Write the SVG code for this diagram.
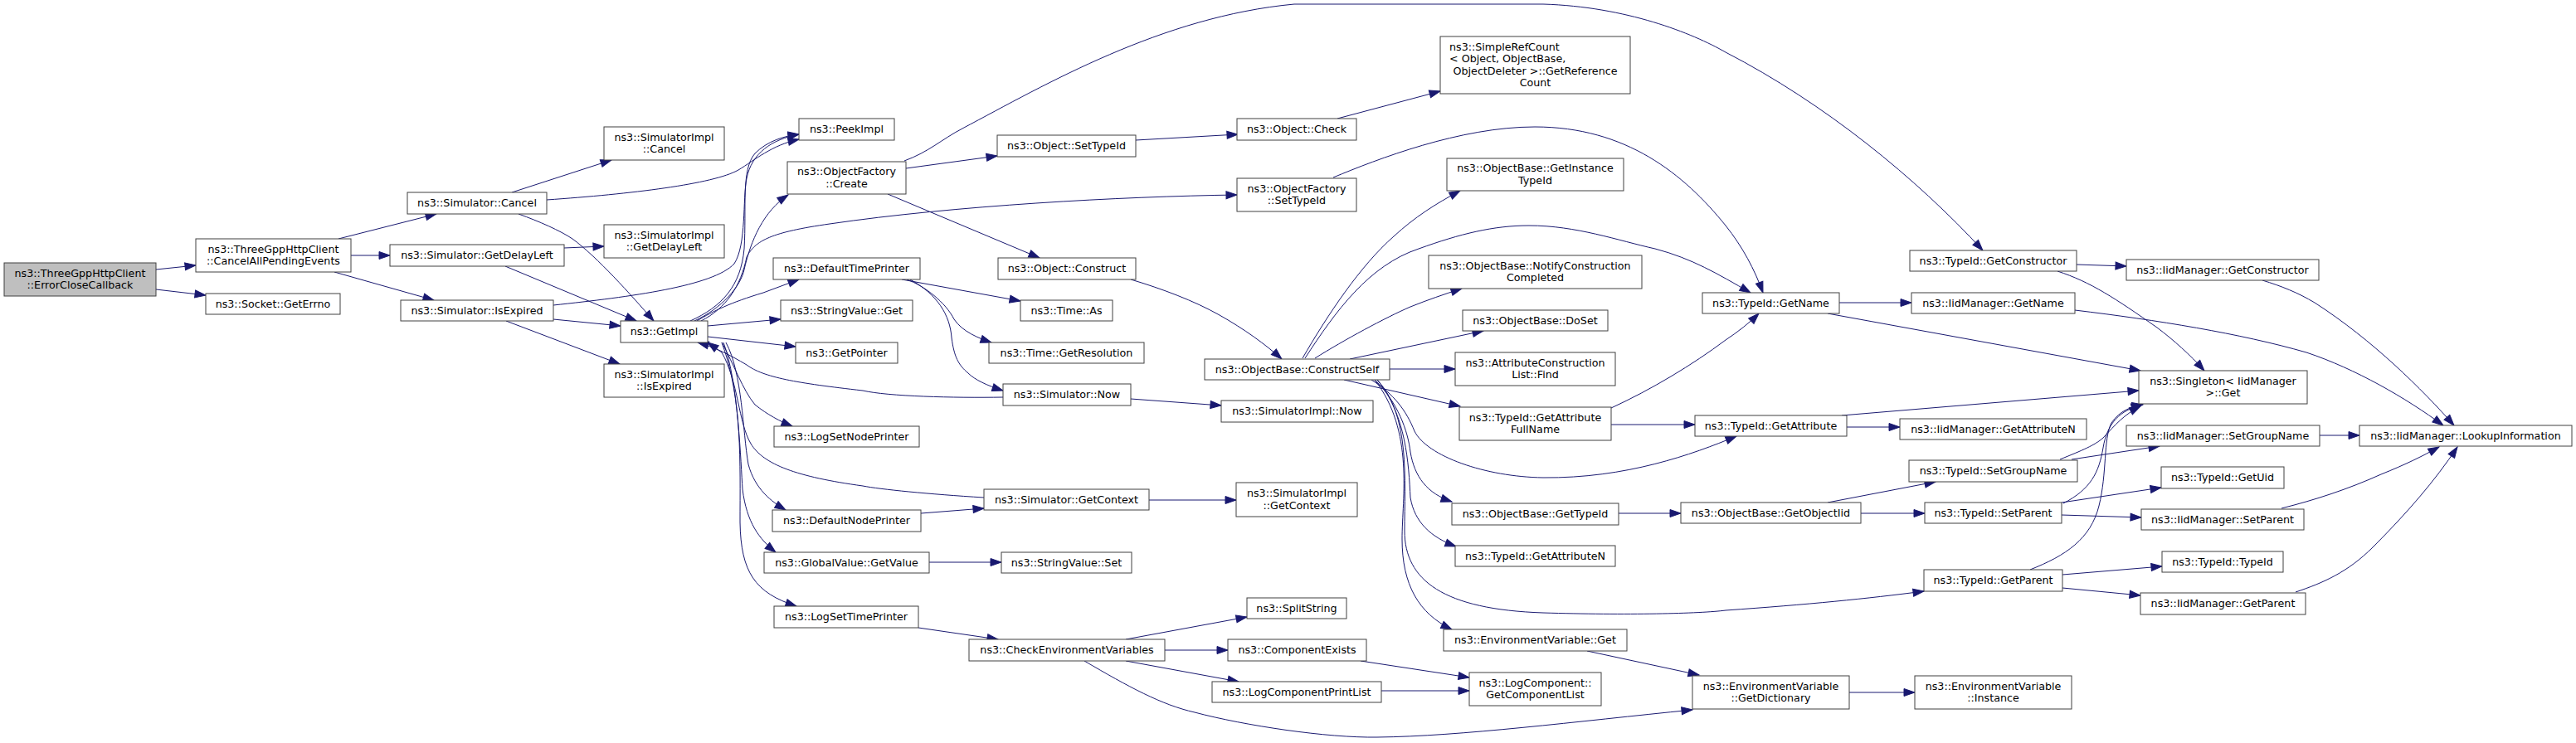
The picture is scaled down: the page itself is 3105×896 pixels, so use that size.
<svg xmlns="http://www.w3.org/2000/svg" width="3105" height="896" viewBox="0 0 3105 896">
<style>
.node rect{fill:#ffffff;stroke:#404040;stroke-width:1}
.node text{font-family:"DejaVu Sans",sans-serif;font-size:12.7px;text-anchor:middle;fill:#000000}
.root rect{fill:#bfbfbf}
.edge path{fill:none;stroke:#191970;stroke-width:1;marker-end:url(#arr)}
</style>
<defs>
<marker id="arr" markerUnits="userSpaceOnUse" markerWidth="14" markerHeight="10" refX="13" refY="4.5" orient="auto" overflow="visible">
<path d="M0,0 L13,4.5 L0,9 Z" fill="#191970" stroke="#191970" stroke-width="1"/>
</marker>
</defs>
<rect x="0" y="0" width="3105" height="896" fill="#ffffff"/>
<g id="edges" class="edge">
<path d="M188,325 L236,320"/>
<path d="M188,349 L248,356"/>
<path d="M408,288 L526,258"/>
<path d="M423,308 L470,308"/>
<path d="M403,328 L523,362"/>
<path d="M617,232 L737,193"/>
<path d="M659,241 C760,234 860,222 890,205 C910,193 930,175 963,168"/>
<path d="M625,258 C650,267 675,278 690,288 C720,310 760,355 788,387"/>
<path d="M680,299 L728,297"/>
<path d="M609,321 L767,387"/>
<path d="M667,385 L748,393"/>
<path d="M610,387 L747,439"/>
<path d="M667,368 C760,358 860,345 885,318 C900,295 895,240 900,215 C906,185 930,168 963,162"/>
<path d="M832,387 C870,370 893,345 897,300 C900,250 893,205 910,185 C925,170 945,164 963,162"/>
<path d="M837,387 C870,372 893,345 897,325 C905,290 920,255 950,235"/>
<path d="M845,387 C875,372 893,345 900,310 C910,290 930,280 1000,270 C1150,248 1350,237 1491,235"/>
<path d="M840,387 C860,375 880,365 920,353 L963,337"/>
<path d="M853,393 L941,385"/>
<path d="M853,406 L959,418"/>
<path d="M870,413 C885,440 895,470 910,488 C925,500 940,508 955,514"/>
<path d="M875,413 C895,450 895,520 902,560 C910,590 930,605 947,615"/>
<path d="M872,413 C890,460 893,560 895,590 C900,630 915,650 935,666"/>
<path d="M870,413 C895,480 892,560 892,630 C893,690 910,715 960,731"/>
<path d="M1209,479 C1150,480 1070,478 1040,471 C960,462 920,455 900,440 C880,428 860,418 841,413"/>
<path d="M1186,600 C1120,596 1060,590 1040,586 C960,575 920,560 905,535 C890,510 890,460 870,425 L853,413"/>
<path d="M1087,337 L1230,363"/>
<path d="M1093,337 C1115,345 1140,365 1150,385 C1160,400 1180,408 1195,413"/>
<path d="M1097,337 C1130,355 1145,380 1147,407 C1150,430 1155,440 1167,450 C1175,458 1190,465 1209,471"/>
<path d="M1363,481 L1472,489"/>
<path d="M1110,619 L1186,613"/>
<path d="M1385,603 L1490,603"/>
<path d="M1120,678 L1207,678"/>
<path d="M1107,757 L1203,771"/>
<path d="M1357,771 L1503,744"/>
<path d="M1404,784 L1480,784"/>
<path d="M1357,797 L1493,822"/>
<path d="M1307,797 C1360,828 1400,850 1440,859 C1500,875 1600,890 1660,889 C1760,888 1900,870 2040,856"/>
<path d="M1640,797 L1771,817"/>
<path d="M1665,833 L1771,833"/>
<path d="M1913,785 L2048,814"/>
<path d="M2229,835 L2308,835"/>
<path d="M1092,203 L1202,188"/>
<path d="M1070,234 L1253,311"/>
<path d="M1090,194 C1120,183 1135,168 1160,155 C1260,102 1400,20 1560,5 L1860,5 C1960,8 2040,40 2080,63 C2200,125 2310,215 2390,302"/>
<path d="M1369,169 L1492,162"/>
<path d="M1612,143 L1736,110"/>
<path d="M1363,337 C1400,348 1440,363 1470,380 C1500,397 1525,415 1545,433"/>
<path d="M1607,214 C1660,192 1760,153 1850,153 C1960,153 2030,210 2080,272 C2100,297 2115,325 2125,353"/>
<path d="M1570,432 C1600,380 1640,320 1680,285 C1705,262 1730,246 1760,230"/>
<path d="M1573,432 C1610,375 1650,320 1710,300 C1760,282 1800,272 1843,272 C1900,272 1950,290 1995,300 C2040,312 2070,330 2110,353"/>
<path d="M1585,432 C1620,410 1670,383 1700,370 C1720,362 1740,355 1762,348"/>
<path d="M1627,433 L1788,399"/>
<path d="M1675,445 L1754,445"/>
<path d="M1620,458 L1760,490"/>
<path d="M1653,458 C1680,475 1695,495 1705,520 C1720,550 1790,575 1860,576 C1960,577 2040,548 2093,526"/>
<path d="M1657,458 C1685,485 1697,520 1700,545 C1705,575 1720,595 1750,605"/>
<path d="M1660,458 C1695,500 1698,560 1700,600 C1705,630 1725,648 1755,659"/>
<path d="M1660,458 C1700,500 1693,580 1693,640 C1693,700 1740,735 1860,739 C1960,742 2050,740 2080,736 C2180,729 2250,722 2319,713"/>
<path d="M1657,458 C1705,520 1690,600 1690,650 C1690,705 1710,740 1750,759"/>
<path d="M1942,492 C1990,470 2040,440 2080,410 C2095,400 2108,390 2120,378"/>
<path d="M1942,512 L2043,512"/>
<path d="M2220,501 L2578,471"/>
<path d="M2226,515 L2290,515"/>
<path d="M1951,619 L2026,619"/>
<path d="M2203,606 L2333,581"/>
<path d="M2243,619 L2320,619"/>
<path d="M2483,554 C2510,543 2525,537 2535,528 C2550,512 2560,500 2580,490"/>
<path d="M2497,554 L2603,538"/>
<path d="M2487,607 C2520,590 2530,570 2535,540 C2540,510 2555,495 2582,488"/>
<path d="M2485,606 L2605,588"/>
<path d="M2485,621 L2581,624"/>
<path d="M2447,687 C2490,670 2520,650 2530,610 C2540,570 2535,530 2545,510 C2555,495 2570,490 2583,488"/>
<path d="M2486,693 L2606,683"/>
<path d="M2486,709 L2580,718"/>
<path d="M2217,365 L2304,365"/>
<path d="M2203,378 L2580,447"/>
<path d="M2503,319 L2563,321"/>
<path d="M2480,327 C2520,340 2550,360 2600,395 C2620,410 2640,428 2657,447"/>
<path d="M2501,374 C2600,386 2700,402 2780,425 C2840,445 2900,480 2945,513"/>
<path d="M2727,338 C2750,345 2770,353 2790,365 C2860,410 2920,470 2958,513"/>
<path d="M2796,525 L2844,525"/>
<path d="M2750,613 C2790,603 2830,590 2870,572 C2900,560 2920,550 2940,539"/>
<path d="M2767,714 C2800,703 2830,690 2860,660 C2900,620 2935,580 2962,539"/>
</g>
<g id="n1" class="node root"><rect x="5" y="317" width="183" height="40"/><text x="96.5" y="333.6">ns3::ThreeGppHttpClient</text><text x="96.5" y="348">::ErrorCloseCallback</text></g>
<g id="n2" class="node"><rect x="236" y="288" width="187" height="40"/><text x="329.5" y="304.6">ns3::ThreeGppHttpClient</text><text x="329.5" y="319">::CancelAllPendingEvents</text></g>
<g id="n3" class="node"><rect x="248" y="354" width="162" height="25"/><text x="329" y="370.5">ns3::Socket::GetErrno</text></g>
<g id="n4" class="node"><rect x="491" y="232" width="168" height="26"/><text x="575" y="249">ns3::Simulator::Cancel</text></g>
<g id="n5" class="node"><rect x="470" y="295" width="210" height="26"/><text x="575" y="312">ns3::Simulator::GetDelayLeft</text></g>
<g id="n6" class="node"><rect x="483" y="362" width="184" height="25"/><text x="575" y="378.5">ns3::Simulator::IsExpired</text></g>
<g id="n7" class="node"><rect x="728" y="153" width="145" height="40"/><text x="800.5" y="169.6">ns3::SimulatorImpl</text><text x="800.5" y="184">::Cancel</text></g>
<g id="n8" class="node"><rect x="728" y="271" width="145" height="40"/><text x="800.5" y="287.6">ns3::SimulatorImpl</text><text x="800.5" y="302">::GetDelayLeft</text></g>
<g id="n9" class="node"><rect x="748" y="387" width="105" height="26"/><text x="800.5" y="404">ns3::GetImpl</text></g>
<g id="n10" class="node"><rect x="728" y="439" width="145" height="40"/><text x="800.5" y="455.6">ns3::SimulatorImpl</text><text x="800.5" y="470">::IsExpired</text></g>
<g id="n11" class="node"><rect x="963" y="143" width="115" height="26"/><text x="1020.5" y="160">ns3::PeekImpl</text></g>
<g id="n12" class="node"><rect x="949" y="195" width="143" height="39"/><text x="1020.5" y="211.1">ns3::ObjectFactory</text><text x="1020.5" y="225.5">::Create</text></g>
<g id="n13" class="node"><rect x="932" y="311" width="177" height="26"/><text x="1020.5" y="328">ns3::DefaultTimePrinter</text></g>
<g id="n14" class="node"><rect x="941" y="362" width="159" height="25"/><text x="1020.5" y="378.5">ns3::StringValue::Get</text></g>
<g id="n15" class="node"><rect x="959" y="413" width="123" height="25"/><text x="1020.5" y="429.5">ns3::GetPointer</text></g>
<g id="n16" class="node"><rect x="933" y="514" width="175" height="25"/><text x="1020.5" y="530.5">ns3::LogSetNodePrinter</text></g>
<g id="n17" class="node"><rect x="931" y="615" width="179" height="26"/><text x="1020.5" y="632">ns3::DefaultNodePrinter</text></g>
<g id="n18" class="node"><rect x="921" y="666" width="199" height="25"/><text x="1020.5" y="682.5">ns3::GlobalValue::GetValue</text></g>
<g id="n19" class="node"><rect x="933" y="731" width="174" height="26"/><text x="1020" y="748">ns3::LogSetTimePrinter</text></g>
<g id="n20" class="node"><rect x="1202" y="163" width="167" height="26"/><text x="1285.5" y="180">ns3::Object::SetTypeId</text></g>
<g id="n21" class="node"><rect x="1203" y="311" width="166" height="26"/><text x="1286" y="328">ns3::Object::Construct</text></g>
<g id="n22" class="node"><rect x="1230" y="362" width="111" height="25"/><text x="1285.5" y="378.5">ns3::Time::As</text></g>
<g id="n23" class="node"><rect x="1192" y="413" width="187" height="25"/><text x="1285.5" y="429.5">ns3::Time::GetResolution</text></g>
<g id="n24" class="node"><rect x="1491" y="143" width="144" height="26"/><text x="1563" y="160">ns3::Object::Check</text></g>
<g id="n25" class="node"><rect x="1491" y="215" width="144" height="40"/><text x="1563" y="231.6">ns3::ObjectFactory</text><text x="1563" y="246">::SetTypeId</text></g>
<g id="n26" class="node"><rect x="1452" y="433" width="223" height="25"/><text x="1563.5" y="449.5">ns3::ObjectBase::ConstructSelf</text></g>
<g id="n27" class="node"><rect x="1209" y="463" width="154" height="26"/><text x="1286" y="480">ns3::Simulator::Now</text></g>
<g id="n28" class="node"><rect x="1472" y="483" width="183" height="26"/><text x="1563.5" y="500">ns3::SimulatorImpl::Now</text></g>
<g id="n29" class="node"><rect x="1186" y="590" width="199" height="25"/><text x="1285.5" y="606.5">ns3::Simulator::GetContext</text></g>
<g id="n30" class="node"><rect x="1490" y="582" width="146" height="41"/><text x="1563" y="599.1">ns3::SimulatorImpl</text><text x="1563" y="613.5">::GetContext</text></g>
<g id="n31" class="node"><rect x="1207" y="666" width="157" height="25"/><text x="1285.5" y="682.5">ns3::StringValue::Set</text></g>
<g id="n32" class="node"><rect x="1168" y="771" width="236" height="26"/><text x="1286" y="788">ns3::CheckEnvironmentVariables</text></g>
<g id="n33" class="node"><rect x="1503" y="721" width="120" height="25"/><text x="1563" y="737.5">ns3::SplitString</text></g>
<g id="n34" class="node"><rect x="1480" y="771" width="167" height="26"/><text x="1563.5" y="788">ns3::ComponentExists</text></g>
<g id="n35" class="node"><rect x="1461" y="822" width="204" height="25"/><text x="1563" y="838.5">ns3::LogComponentPrintList</text></g>
<g id="n36" class="node"><rect x="1736" y="44" width="229" height="69"/><text x="1747" y="61" style="text-anchor:start">ns3::SimpleRefCount</text><text x="1747" y="75.4" style="text-anchor:start">&lt; Object, ObjectBase,</text><text x="1850.5" y="89.8"> ObjectDeleter &gt;::GetReference</text><text x="1850.5" y="104.2">Count</text></g>
<g id="n37" class="node"><rect x="1744" y="191" width="213" height="39"/><text x="1850.5" y="207.1">ns3::ObjectBase::GetInstance</text><text x="1850.5" y="221.5">TypeId</text></g>
<g id="n38" class="node"><rect x="1722" y="308" width="257" height="40"/><text x="1850.5" y="324.6">ns3::ObjectBase::NotifyConstruction</text><text x="1850.5" y="339">Completed</text></g>
<g id="n39" class="node"><rect x="1763" y="374" width="175" height="25"/><text x="1850.5" y="390.5">ns3::ObjectBase::DoSet</text></g>
<g id="n40" class="node"><rect x="1754" y="425" width="193" height="40"/><text x="1850.5" y="441.6">ns3::AttributeConstruction</text><text x="1850.5" y="456">List::Find</text></g>
<g id="n41" class="node"><rect x="1759" y="491" width="183" height="40"/><text x="1850.5" y="507.6">ns3::TypeId::GetAttribute</text><text x="1850.5" y="522">FullName</text></g>
<g id="n42" class="node"><rect x="1750" y="607" width="201" height="26"/><text x="1850.5" y="624">ns3::ObjectBase::GetTypeId</text></g>
<g id="n43" class="node"><rect x="1754" y="658" width="193" height="25"/><text x="1850.5" y="674.5">ns3::TypeId::GetAttributeN</text></g>
<g id="n44" class="node"><rect x="1740" y="759" width="221" height="26"/><text x="1850.5" y="776">ns3::EnvironmentVariable::Get</text></g>
<g id="n45" class="node"><rect x="1771" y="811" width="159" height="40"/><text x="1850.5" y="827.6">ns3::LogComponent::</text><text x="1850.5" y="842">GetComponentList</text></g>
<g id="n46" class="node"><rect x="2043" y="501" width="183" height="25"/><text x="2134.5" y="517.5">ns3::TypeId::GetAttribute</text></g>
<g id="n47" class="node"><rect x="2026" y="606" width="217" height="25"/><text x="2134.5" y="622.5">ns3::ObjectBase::GetObjectIid</text></g>
<g id="n48" class="node"><rect x="2040" y="815" width="189" height="40"/><text x="2134.5" y="831.6">ns3::EnvironmentVariable</text><text x="2134.5" y="846">::GetDictionary</text></g>
<g id="n49" class="node"><rect x="2052" y="353" width="165" height="25"/><text x="2134.5" y="369.5">ns3::TypeId::GetName</text></g>
<g id="n50" class="node"><rect x="2302" y="302" width="201" height="25"/><text x="2402.5" y="318.5">ns3::TypeId::GetConstructor</text></g>
<g id="n51" class="node"><rect x="2304" y="353" width="197" height="25"/><text x="2402.5" y="369.5">ns3::IidManager::GetName</text></g>
<g id="n52" class="node"><rect x="2563" y="313" width="232" height="25"/><text x="2679" y="329.5">ns3::IidManager::GetConstructor</text></g>
<g id="n53" class="node"><rect x="2578" y="447" width="203" height="40"/><text x="2679.5" y="463.6">ns3::Singleton&lt; IidManager</text><text x="2679.5" y="478"> &gt;::Get</text></g>
<g id="n54" class="node"><rect x="2290" y="505" width="225" height="25"/><text x="2402.5" y="521.5">ns3::IidManager::GetAttributeN</text></g>
<g id="n55" class="node"><rect x="2301" y="555" width="203" height="26"/><text x="2402.5" y="572">ns3::TypeId::SetGroupName</text></g>
<g id="n56" class="node"><rect x="2320" y="606" width="165" height="25"/><text x="2402.5" y="622.5">ns3::TypeId::SetParent</text></g>
<g id="n57" class="node"><rect x="2319" y="687" width="167" height="26"/><text x="2402.5" y="704">ns3::TypeId::GetParent</text></g>
<g id="n58" class="node"><rect x="2308" y="815" width="189" height="40"/><text x="2402.5" y="831.6">ns3::EnvironmentVariable</text><text x="2402.5" y="846">::Instance</text></g>
<g id="n59" class="node"><rect x="2563" y="513" width="233" height="25"/><text x="2679.5" y="529.5">ns3::IidManager::SetGroupName</text></g>
<g id="n60" class="node"><rect x="2605" y="563" width="148" height="26"/><text x="2679" y="580">ns3::TypeId::GetUid</text></g>
<g id="n61" class="node"><rect x="2581" y="614" width="196" height="25"/><text x="2679" y="630.5">ns3::IidManager::SetParent</text></g>
<g id="n62" class="node"><rect x="2606" y="665" width="146" height="25"/><text x="2679" y="681.5">ns3::TypeId::TypeId</text></g>
<g id="n63" class="node"><rect x="2580" y="715" width="199" height="26"/><text x="2679.5" y="732">ns3::IidManager::GetParent</text></g>
<g id="n64" class="node"><rect x="2844" y="513" width="256" height="25"/><text x="2972" y="529.5">ns3::IidManager::LookupInformation</text></g>
</svg>
